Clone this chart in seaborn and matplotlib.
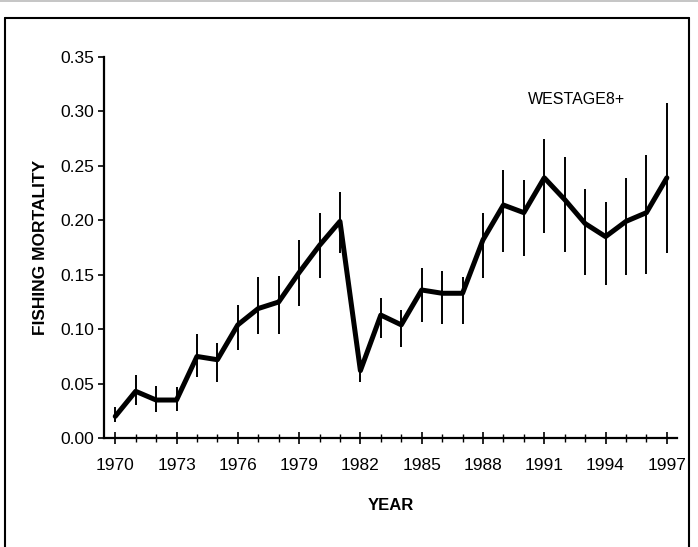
import numpy as np
import pandas as pd
import matplotlib
matplotlib.use("Agg")
import matplotlib.pyplot as plt
from matplotlib.lines import Line2D
from matplotlib.ticker import MultipleLocator
import seaborn as sns

years = list(range(1970, 1998))
mortality = [0.020, 0.043, 0.035, 0.035, 0.075, 0.072, 0.104, 0.119, 0.125, 0.152,
             0.177, 0.199, 0.062, 0.113, 0.104, 0.136, 0.133, 0.133, 0.182, 0.214,
             0.207, 0.239, 0.219, 0.197, 0.185, 0.199, 0.207, 0.239]
err_low = [0.015, 0.030, 0.024, 0.025, 0.056, 0.052, 0.081, 0.096, 0.096, 0.121,
           0.147, 0.170, 0.052, 0.092, 0.084, 0.107, 0.105, 0.105, 0.147, 0.171,
           0.167, 0.188, 0.171, 0.150, 0.141, 0.150, 0.151, 0.170]
err_high = [0.029, 0.058, 0.048, 0.047, 0.096, 0.087, 0.122, 0.148, 0.149, 0.182,
            0.207, 0.226, 0.072, 0.129, 0.118, 0.156, 0.153, 0.148, 0.207, 0.246,
            0.237, 0.275, 0.258, 0.229, 0.217, 0.239, 0.260, 0.308]

df = pd.DataFrame({"year": years, "F": mortality, "lo": err_low, "hi": err_high})

sns.set_style("ticks", {"text.color": "black", "axes.labelcolor": "black",
                        "xtick.color": "black", "ytick.color": "black"})
plt.rcParams["font.family"] = ["Liberation Sans", "DejaVu Sans"]

fig = plt.figure(figsize=(6.98, 5.47), dpi=100)
ax = fig.add_axes([0.149, 0.199, 0.821, 0.697])

# error bars
ax.vlines(df["year"], df["lo"], df["hi"], color="black", linewidth=1.4)
sns.lineplot(x="year", y="F", data=df, color="black", linewidth=3.6, ax=ax)

ax.set_xlim(1969.45, 1997.5)
ax.set_ylim(0, 0.35)
ax.xaxis.set_minor_locator(MultipleLocator(1))
ax.set_xticks(range(1970, 1998, 3))
ax.yaxis.set_major_locator(MultipleLocator(0.05))
ax.set_yticklabels([f"{v:.2f}" for v in ax.get_yticks()])
ax.tick_params(axis="x", which="major", direction="inout", length=9, width=1.2,
               labelsize=12.5, pad=10)
ax.tick_params(axis="x", which="minor", direction="inout", length=6, width=1)
ax.tick_params(axis="y", direction="out", length=4, width=1.2, labelsize=12.5, pad=3)
for s in ["top", "right"]:
    ax.spines[s].set_visible(False)
for s in ["left", "bottom"]:
    ax.spines[s].set_linewidth(1.6)
    ax.spines[s].set_color("black")

ax.set_xlabel("YEAR", fontsize=12, fontweight="bold", labelpad=18)
ax.set_ylabel("FISHING MORTALITY", fontsize=12.5, fontweight="bold", labelpad=9)
ax.text(1992.6, 0.311, "WESTAGE8+", fontsize=11.5, ha="center", va="center")

# outer frame
fig.add_artist(Line2D([0.007, 0.987], [0.967, 0.967], color="black", linewidth=1.5,
                      transform=fig.transFigure))
fig.add_artist(Line2D([0.007, 0.007], [0.0, 0.967], color="black", linewidth=1.5,
                      transform=fig.transFigure))
fig.add_artist(Line2D([0.987, 0.987], [0.0, 0.967], color="black", linewidth=1.5,
                      transform=fig.transFigure))
fig.add_artist(Line2D([0.0, 1.0], [0.998, 0.998], color="#bbbbbb", linewidth=1.2,
                      transform=fig.transFigure))

fig.savefig("out.png", dpi=100)
